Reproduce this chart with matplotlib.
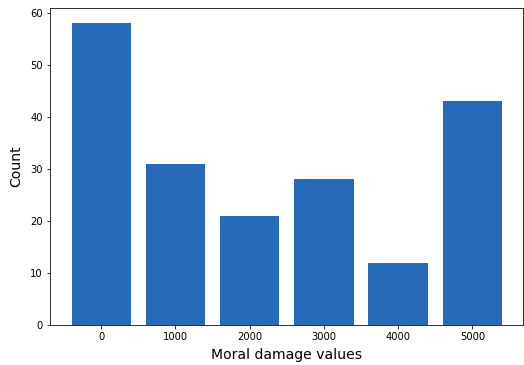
import matplotlib.pyplot as plt
import numpy as np

# moral damage values and their counts
damage_values = [0, 1000, 2000, 3000, 4000, 5000]
counts = [58, 31, 21, 28, 12, 43]

fig, ax = plt.subplots(figsize=(524 / 72, 365 / 72), dpi=72)
fig.subplots_adjust(left=0.0954, right=0.999, top=0.978, bottom=0.1096)

ax.bar(damage_values, counts, width=800, color='#276bb8')
ax.set_xticks(damage_values)
ax.set_xlabel('Moral damage values', fontsize=14, labelpad=6)
ax.set_ylabel('Count', fontsize=14, labelpad=7)

plt.savefig('out.png', dpi=72)
